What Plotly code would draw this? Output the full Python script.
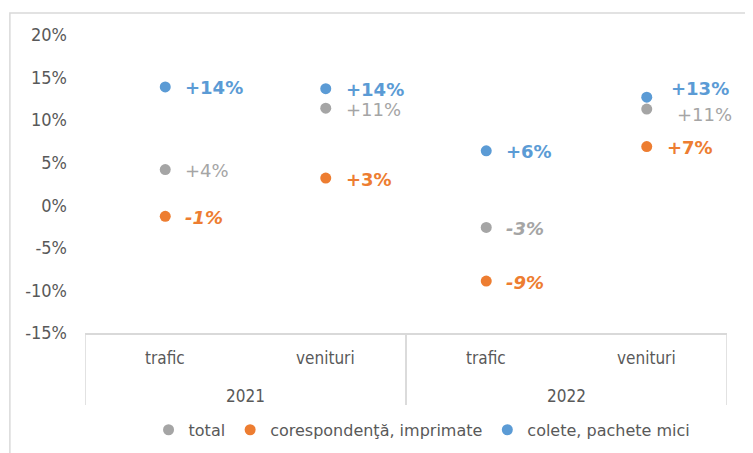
import plotly.graph_objects as go

# Data (percent change)
years = ["2021", "2021", "2022", "2022"]
measures = ["trafic", "venituri", "trafic", "venituri"]
total = [4.2, 11.4, -2.6, 11.3]
corespondenta = [-1.3, 3.2, -8.9, 6.9]
colete = [13.9, 13.7, 6.4, 12.7]

y_ticks = [-15, -10, -5, 0, 5, 10, 15, 20]
y_ticktext = [f"{v}%" for v in y_ticks]

series = [
    ("total", total, "#A5A5A5"),
    ("corespondenţă, imprimate", corespondenta, "#ED7D31"),
    ("colete, pachete mici", colete, "#5B9BD5"),
]

# label nudges (px) for the crowded points, keyed by (series, point)
nudge = {
    (0, 3): (28, -5),
    (2, 3): (22, 9),
}

GRID = "#D9D9D9"
TXT = "#595959"
AXFONT = "DejaVu Sans Condensed"

fig = go.Figure()
annotations = []
for s, (name, vals, color) in enumerate(series):
    fig.add_trace(go.Scatter(
        x=[years, measures],
        y=vals,
        mode="markers",
        name=name,
        marker=dict(color=color, size=11),
    ))
    for i, v in enumerate(vals):
        dx, dy = nudge.get((s, i), (18, -1))
        neg = v < 0
        bold = neg or s > 0
        annotations.append(dict(
            x=i, y=v, xref="x", yref="y",
            text=f"{v:+.0f}%",
            showarrow=False,
            xanchor="left", yanchor="middle",
            xshift=dx, yshift=dy,
            font=dict(family="DejaVu Sans", size=18, color=color,
                      weight="bold" if bold else "normal",
                      style="italic" if neg else "normal"),
        ))

# two-level category labels under the plot (Excel style)
for i, m in enumerate(measures):
    annotations.append(dict(x=i, y=-0.084, xref="x", yref="paper", text=m,
                            showarrow=False, yanchor="middle",
                            font=dict(family=AXFONT, size=17, color=TXT)))
groups = sorted(set(years))
for g in groups:
    idx = [i for i, y in enumerate(years) if y == g]
    annotations.append(dict(x=sum(idx) / len(idx), y=-0.211, xref="x",
                            yref="paper", text=g, showarrow=False,
                            yanchor="middle",
                            font=dict(family=AXFONT, size=17, color=TXT)))
    for edge in (min(idx) - 0.5, max(idx) + 0.5):
        fig.add_shape(type="line", xref="x", yref="paper",
                      x0=edge, x1=edge, y0=0, y1=-0.242,
                      line=dict(color=GRID, width=1.5))

# outer frame of the chart area
fig.add_shape(type="rect", xref="paper", yref="paper",
              x0=-0.117, x1=1.08, y0=-0.5, y1=1.074,
              line=dict(color=GRID, width=1.5), layer="below")

# page body adds an 8px offset, so margins are shifted to compensate
fig.update_layout(
    width=753, height=453,
    margin=dict(l=77, r=34, t=27, b=128, autoexpand=False),
    plot_bgcolor="white", paper_bgcolor="white",
    font=dict(family="DejaVu Sans", size=16, color=TXT),
    annotations=annotations,
    showlegend=True,
    legend=dict(orientation="h", x=0.525, xanchor="center", y=-0.325,
                yanchor="middle", font=dict(size=16, color=TXT),
                itemwidth=30, tracegroupgap=0),
)
fig.update_yaxes(range=[-15, 20], tickvals=y_ticks, ticktext=y_ticktext,
                 showgrid=False, zeroline=False, showline=False,
                 ticklabelstandoff=17,
                 tickfont=dict(family=AXFONT, size=18, color=TXT))
fig.update_xaxes(type="multicategory", range=[-0.5, 3.5], showline=True,
                 linecolor=GRID, linewidth=1.5, showdividers=False,
                 showgrid=False, ticks="", showticklabels=False)

fig.write_html("out.html")
